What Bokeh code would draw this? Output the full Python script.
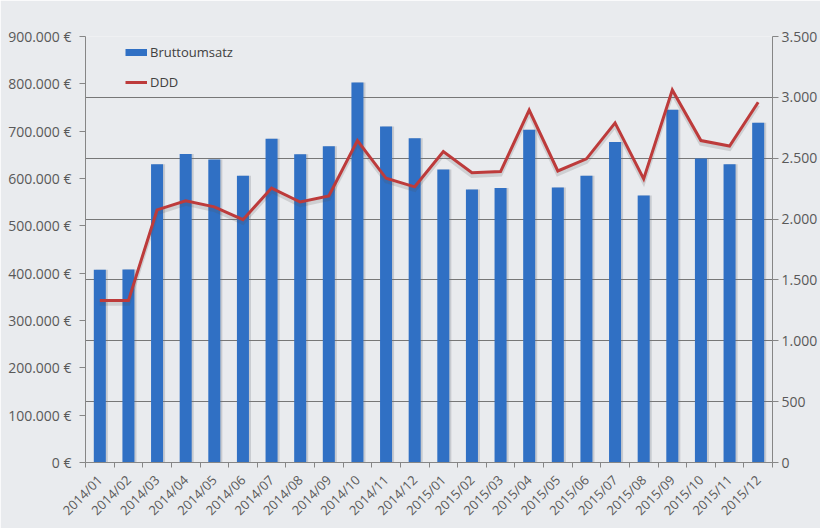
import math
from bokeh.plotting import figure
from bokeh.models import (Range1d, LinearAxis, FixedTicker, CustomJSTickFormatter,
                          Legend, LegendItem, Grid, ColumnDataSource)
from bokeh.transform import dodge
from bokeh.embed import file_html
from bokeh.resources import INLINE

months = ["2014/01", "2014/02", "2014/03", "2014/04", "2014/05", "2014/06",
          "2014/07", "2014/08", "2014/09", "2014/10", "2014/11", "2014/12",
          "2015/01", "2015/02", "2015/03", "2015/04", "2015/05", "2015/06",
          "2015/07", "2015/08", "2015/09", "2015/10", "2015/11", "2015/12"]
bruttoumsatz = [407000, 408000, 630000, 652000, 640000, 606000,
                684000, 651000, 668000, 803000, 710000, 685000,
                619000, 577000, 580000, 703000, 581000, 606000,
                677000, 564000, 745000, 642000, 630000, 718000]
ddd = [1330, 1330, 2075, 2150, 2100, 1995,
       2255, 2140, 2190, 2645, 2335, 2265,
       2555, 2380, 2390, 2895, 2395, 2495,
       2790, 2330, 3060, 2645, 2600, 2960]
umsatz_ticks = [0, 100000, 200000, 300000, 400000, 500000, 600000, 700000, 800000, 900000]
ddd_ticks = [0, 500, 1000, 1500, 2000, 2500, 3000, 3500]

FONT = "Open Sans"
BG = "#e9ebee"
AXIS = "#868686"
LABEL = "#595959"
BAR = "#3070c4"
LINE = "#bd3b3b"

n = len(months)
centers = [i + 0.5 for i in range(n)]
bounds = list(range(n + 1))

src = ColumnDataSource(dict(x=centers, month=months, umsatz=bruttoumsatz, ddd=ddd))

p = figure(frame_width=687, frame_height=426,
           x_range=Range1d(0, n), y_range=Range1d(umsatz_ticks[0], umsatz_ticks[-1]),
           output_backend="svg", toolbar_location=None,
           min_border_left=85, min_border_right=44, min_border_top=36, min_border_bottom=61)
p.extra_y_ranges = {"ddd": Range1d(ddd_ticks[0], ddd_ticks[-1])}
p.background_fill_color = BG
p.border_fill_color = BG
p.outline_line_color = None
p.xgrid.visible = False
p.ygrid.visible = False

grid = Grid(dimension=1, ticker=FixedTicker(ticks=ddd_ticks), y_range_name="ddd",
            grid_line_color="#777777", grid_line_width=1)
p.add_layout(grid)

# bar shadow + bars
p.vbar(x=dodge("x", 0.07), top="umsatz", width=0.42, source=src,
       fill_color="#6f7680", fill_alpha=0.28, line_color=None)
bars = p.vbar(x="x", top="umsatz", width=0.42, source=src,
              fill_color=BAR, line_color=None)

# DDD line (with faint shadow)
p.line(x="x", y=dodge("ddd", -25, range=p.extra_y_ranges["ddd"]), source=src, y_range_name="ddd",
       line_color="#555555", line_alpha=0.18, line_width=4, line_join="miter")
ln = p.line(x="x", y="ddd", source=src, y_range_name="ddd",
            line_color=LINE, line_width=3, line_join="miter")

# hidden legend proxy for the bar series (thin bar-shaped key)
proxy = p.line(x="x", y="umsatz", source=src, line_color=BAR, line_width=7,
               line_cap="butt", visible=False)

# x axis
xa = p.xaxis[0]
xa.ticker = FixedTicker(ticks=centers, minor_ticks=bounds)
xa.formatter = CustomJSTickFormatter(args=dict(labels=months),
                                     code="return labels[Math.floor(tick)];")
xa.major_label_orientation = math.pi / 4
xa.major_tick_out = 0
xa.major_tick_in = 0
xa.minor_tick_out = 5
xa.minor_tick_in = 0
xa.minor_tick_line_color = AXIS
xa.axis_line_color = AXIS
xa.major_label_text_font = FONT
xa.major_label_text_font_size = "13px"
xa.major_label_text_color = LABEL
xa.major_label_standoff = 10

# left axis
ya = p.yaxis[0]
ya.ticker = FixedTicker(ticks=umsatz_ticks)
ya.formatter = CustomJSTickFormatter(
    code="return tick.toFixed(0).replace(/\\B(?=(\\d{3})+(?!\\d))/g, '.') + ' \u20ac';")
ya.major_tick_out = 6
ya.major_tick_in = 0
ya.minor_tick_out = 0
ya.minor_tick_in = 0
ya.major_tick_line_color = AXIS
ya.axis_line_color = AXIS
ya.major_label_text_font = FONT
ya.major_label_text_font_size = "14px"
ya.major_label_text_color = LABEL
ya.major_label_standoff = 8

# right axis
ra = LinearAxis(y_range_name="ddd", ticker=FixedTicker(ticks=ddd_ticks),
                formatter=CustomJSTickFormatter(
                    code="return tick.toFixed(0).replace(/\\B(?=(\\d{3})+(?!\\d))/g, '.');"))
ra.major_tick_out = 6
ra.major_tick_in = 0
ra.minor_tick_out = 0
ra.minor_tick_in = 0
ra.major_tick_line_color = AXIS
ra.axis_line_color = AXIS
ra.major_label_text_font = FONT
ra.major_label_text_font_size = "14px"
ra.major_label_text_color = LABEL
ra.major_label_standoff = 3
p.add_layout(ra, "right")

legend = Legend(items=[LegendItem(label="Bruttoumsatz", renderers=[proxy]),
                       LegendItem(label="DDD", renderers=[ln])],
                location=(40, 370), padding=0, margin=0, click_policy="none",
                background_fill_alpha=0, border_line_color=None,
                glyph_width=22, glyph_height=20, label_height=20, spacing=10,
                label_standoff=3, label_text_font=FONT, label_text_font_size="13px",
                label_text_color="#404040")
p.add_layout(legend)

open("out.html", "w").write(file_html(p, INLINE))
